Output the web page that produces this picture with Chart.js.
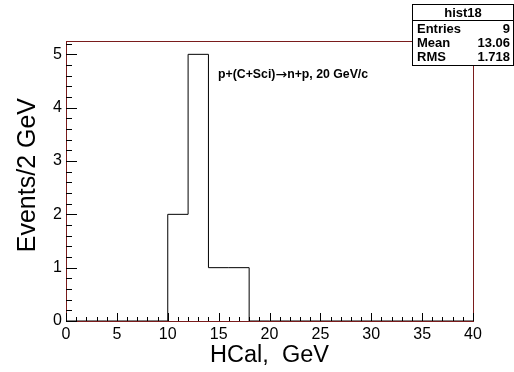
<!DOCTYPE html>
<html>
<head>
<meta charset="utf-8">
<script src="https://cdn.jsdelivr.net/npm/chart.js@4/dist/chart.umd.min.js"></script>
<style>
  body { margin: 0; background: #fff; }
  canvas { display: block; }
</style>
</head>
<body>
<canvas id="hist18" width="514" height="372"></canvas>
<script>
// histogram hist18: 20 bins of 2 GeV from 0 to 40
const binEdges = [0, 2, 4, 6, 8, 10, 12, 14, 16, 18, 20, 22, 24, 26, 28, 30, 32, 34, 36, 38, 40];
const binCounts = [0, 0, 0, 0, 0, 2, 5, 1, 1, 0, 0, 0, 0, 0, 0, 0, 0, 0, 0, 0];
const statLabels = ['Entries', 'Mean', 'RMS'];
const statValues = ['9', '13.06', '1.718'];
const histName = 'hist18';
const reactionParts = ['p+(C+Sci)', '\u2192', 'n+p, 20 GeV/c'];
const xTitle = 'HCal,  GeV';
const yTitle = 'Events/2 GeV';
const xRange = [0, 40];
const yRange = [0, 5.25];

// points at the lower edge of each bin, plus the closing edge
const points = binCounts.map((c, i) => ({ x: binEdges[i], y: c }));
points.push({ x: binEdges[binEdges.length - 1], y: 0 });

const FONT = '"Liberation Sans", Arial, Helvetica, sans-serif';

const rootFrame = {
  id: 'rootFrame',
  afterDatasetsDraw(chart) {
    const ctx = chart.ctx;
    const a = chart.chartArea;
    const xs = chart.scales.x, ys = chart.scales.y;
    ctx.save();
    // frame
    ctx.strokeStyle = '#7a1c1c';
    ctx.lineWidth = 1;
    ctx.strokeRect(Math.round(a.left) + 0.5, Math.round(a.top) + 0.5,
      Math.round(a.right - a.left), Math.round(a.bottom - a.top));

    // ticks inside the frame
    ctx.strokeStyle = '#000';
    ctx.beginPath();
    for (let v = xRange[0]; v <= xRange[1]; v++) {
      const px = Math.round(xs.getPixelForValue(v)) + 0.5;
      const len = v % 5 === 0 ? 8 : 4;
      ctx.moveTo(px, a.bottom);
      ctx.lineTo(px, a.bottom - len);
    }
    for (let k = 0; k <= 26; k++) {
      const v = k * 0.2;
      if (v > yRange[1]) break;
      const py = Math.round(ys.getPixelForValue(v)) + 0.5;
      const len = k % 5 === 0 ? 11 : 6;
      ctx.moveTo(a.left, py);
      ctx.lineTo(a.left + len, py);
    }
    ctx.stroke();

    // axis titles
    ctx.fillStyle = '#000';
    ctx.font = '23.5px ' + FONT;
    ctx.textAlign = 'center';
    ctx.textBaseline = 'middle';
    ctx.fillText(xTitle, (a.left + a.right) / 2, 356);
    ctx.save();
    ctx.translate(28, 0);
    ctx.rotate(-Math.PI / 2);
    ctx.font = '25px ' + FONT;
    ctx.textAlign = 'right';
    ctx.fillText(yTitle, -98, 0);
    ctx.restore();

    // reaction label, arrow from a font with a long thin arrow glyph
    ctx.textAlign = 'left';
    let tx = 218;
    reactionParts.forEach((part, i) => {
      ctx.font = i === 1 ? '14px "DejaVu Sans"' : 'bold 12.3px ' + FONT;
      ctx.fillText(part, tx, 75);
      tx += ctx.measureText(part).width;
    });

    // stats box
    const bx = 412.5, by = 4.5, bw = 101, bh = 61;
    ctx.fillStyle = '#fff';
    ctx.fillRect(bx, by, bw, bh);
    ctx.strokeStyle = '#000';
    ctx.strokeRect(bx, by, bw, bh);
    ctx.beginPath();
    ctx.moveTo(bx, 20.5);
    ctx.lineTo(bx + bw, 20.5);
    ctx.stroke();
    ctx.fillStyle = '#000';
    ctx.font = 'bold 13px ' + FONT;
    ctx.textAlign = 'center';
    ctx.fillText(histName, bx + bw / 2, 13);
    statLabels.forEach((lab, i) => {
      const ty = 29 + i * 14;
      ctx.textAlign = 'left';
      ctx.fillText(lab, 417, ty);
      ctx.textAlign = 'right';
      ctx.fillText(statValues[i], 510, ty);
    });
    ctx.restore();
  }
};

new Chart(document.getElementById('hist18'), {
  type: 'line',
  data: {
    datasets: [{
      data: points,
      stepped: 'before',
      borderColor: '#000',
      borderWidth: 1,
      pointRadius: 0,
      fill: false
    }]
  },
  options: {
    responsive: false,
    animation: false,
    devicePixelRatio: 1,
    layout: { padding: { top: 41, right: 41, left: 0, bottom: 0 } },
    plugins: { legend: { display: false }, tooltip: { enabled: false } },
    scales: {
      x: {
        type: 'linear',
        min: xRange[0],
        max: xRange[1],
        grid: { display: false, drawTicks: false },
        border: { display: false },
        ticks: { stepSize: 5, padding: 4, color: '#000', maxRotation: 0,
                  font: { family: FONT, size: 16 } },
        afterFit(scale) { scale.height = 51; }
      },
      y: {
        min: yRange[0],
        max: yRange[1],
        grid: { display: false, drawTicks: false },
        border: { display: false },
        ticks: { stepSize: 1, padding: 4, color: '#000', includeBounds: false,
                  font: { family: FONT, size: 16 } },
        afterFit(scale) { scale.width = 66; }
      }
    }
  },
  plugins: [rootFrame]
});
</script>
</body>
</html>
